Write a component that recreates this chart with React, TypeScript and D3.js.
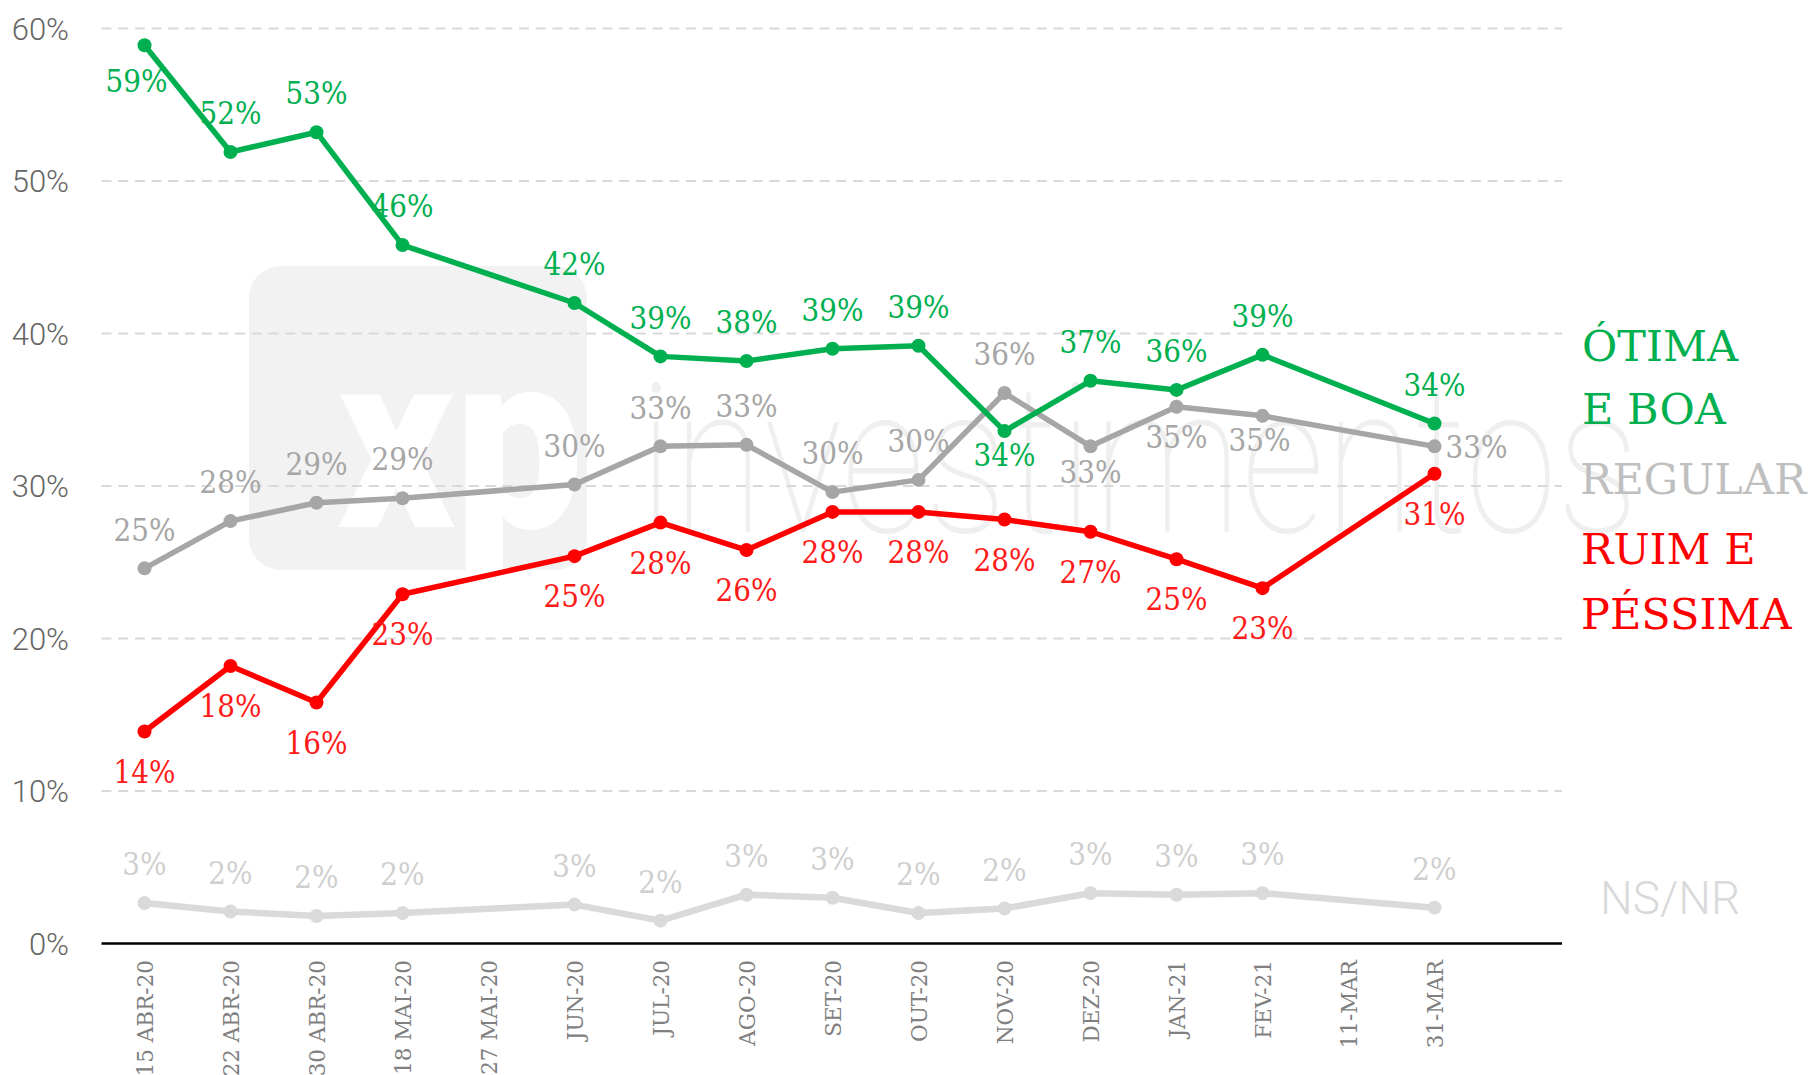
import React from 'react';
import * as d3 from 'd3';

// ---------- data ----------
const categories = [
  '15 ABR-20', '22 ABR-20', '30 ABR-20', '18 MAI-20', '27 MAI-20', 'JUN-20', 'JUL-20', 'AGO-20',
  'SET-20', 'OUT-20', 'NOV-20', 'DEZ-20', 'JAN-21', 'FEV-21', '11-MAR', '31-MAR',
];
const otimaBoa = [58.9, 51.9, 53.2, 45.8, null, 42.0, 38.5, 38.2, 39.0, 39.2, 33.6, 36.9, 36.3, 38.6, null, 34.1];
const regular = [24.6, 27.7, 28.9, 29.2, null, 30.1, 32.6, 32.7, 29.6, 30.4, 36.1, 32.6, 35.2, 34.6, null, 32.6];
const ruimPessima = [13.9, 18.2, 15.8, 22.9, null, 25.4, 27.6, 25.8, 28.3, 28.3, 27.8, 27.0, 25.2, 23.3, null, 30.8];
const nsnr = [2.65, 2.1, 1.8, 2.0, null, 2.55, 1.5, 3.2, 3.0, 2.0, 2.3, 3.3, 3.2, 3.3, null, 2.35];
const yTicks = [0, 10, 20, 30, 40, 50, 60];
const legendOtima = ['ÓTIMA', 'E BOA'];
const legendRegular = ['REGULAR'];
const legendRuim = ['RUIM E', 'PÉSSIMA'];
const legendNs = ['NS/NR'];

// ---------- layout ----------
const W = 1812;
const H = 1075;
const PLOT_LEFT = 101.5;
const PLOT_RIGHT = 1562;
const BAND_RIGHT = 1477.5;

const ABOVE = -39;
const BELOW = 40;

type Off = { dx?: number; dy: number };

const series = [
  {
    key: 'regular', values: regular, color: '#a6a6a6', labelColor: '#a6a6a6', width: 5.5, r: 7,
    def: ABOVE,
    over: { 11: { dy: 25 }, 12: { dy: 30 }, 13: { dx: -3, dy: 24 }, 15: { dx: 42, dy: 0 } } as Record<number, Off>,
  },
  {
    key: 'ruim', values: ruimPessima, color: '#ff0000', labelColor: '#ff1a1a', width: 5.5, r: 7,
    def: BELOW, over: {} as Record<number, Off>,
  },
  {
    key: 'otima', values: otimaBoa, color: '#00b050', labelColor: '#00b050', width: 5.5, r: 7,
    def: ABOVE, over: { 0: { dx: -8, dy: 36 }, 10: { dy: 24 } } as Record<number, Off>,
  },
  {
    key: 'ns', values: nsnr, color: '#dadada', labelColor: '#cfcfcf', width: 6.5, r: 7,
    def: ABOVE, over: {} as Record<number, Off>,
  },
];

const LABEL_FONT = '"DejaVu Serif Condensed", "DejaVu Serif", serif';
const LABEL_SIZE = 31;

export default function App() {
  const x = d3.scaleBand<string>().domain(categories).range([PLOT_LEFT, BAND_RIGHT]).padding(0);
  const cx = (c: string) => (x(c) as number) + x.bandwidth() / 2;
  const y = d3.scaleLinear().domain([0, 60]).range([943.5, 28.5]);

  const line = d3
    .line<{ c: string; v: number }>()
    .x((d) => cx(d.c))
    .y((d) => y(d.v));

  return (
    <svg
      width={W}
      height={H}
      viewBox={`0 0 ${W} ${H}`}
      style={{ position: 'absolute', left: 0, top: 0, background: '#fff' }}
    >
      <rect x={0} y={0} width={W} height={H} fill="#fff" />
      {/* watermark */}
      <g>
        <rect x={249} y={266} width={338} height={304} rx={32} fill="#f2f2f2" />
        <text
          x={337}
          y={527}
          fontFamily="Roboto, sans-serif"
          fontWeight={900}
          fontSize={250}
          fill="#ffffff"
          textLength={246}
          lengthAdjust="spacingAndGlyphs"
        >
          xp
        </text>
        <text
          x={639}
          y={532}
          fontFamily="Roboto, sans-serif"
          fontWeight={100}
          fontSize={208}
          fill="#efefef"
          textLength={1000}
          lengthAdjust="spacingAndGlyphs"
        >
          investimentos
        </text>
      </g>

      {/* gridlines */}
      {yTicks
        .filter((t) => t > 0)
        .map((t) => (
          <line
            key={t}
            x1={PLOT_LEFT}
            x2={PLOT_RIGHT}
            y1={y(t)}
            y2={y(t)}
            stroke="#d9d9d9"
            strokeWidth={2}
            strokeDasharray="10 6.7"
          />
        ))}
      {/* y tick labels */}
      {yTicks.map((t) => (
        <text
          key={'yt' + t}
          x={69}
          y={y(t) + 11}
          textAnchor="end"
          fontFamily="Roboto, sans-serif"
          fontWeight={300}
          fontSize={31}
          fill="#666666"
        >
          {t}%
        </text>
      ))}
      {/* x axis */}
      <line x1={PLOT_LEFT} x2={PLOT_RIGHT} y1={y(0)} y2={y(0)} stroke="#000" strokeWidth={2.5} />
      {categories.map((c) => (
        <text
          key={'xt' + c}
          transform={`translate(${cx(c) + 8},960) rotate(-90)`}
          textAnchor="end"
          fontFamily='"DejaVu Serif", serif'
          fontSize={21.5}
          fill="#808080"
        >
          {c}
        </text>
      ))}

      {/* series */}
      {series.map((s) => {
        const pts = categories
          .map((c, i) => ({ c, v: s.values[i] as number | null, i }))
          .filter((d) => d.v !== null) as { c: string; v: number; i: number }[];
        return (
          <g key={s.key}>
            <path
              d={line(pts) || ''}
              fill="none"
              stroke={s.color}
              strokeWidth={s.width}
              strokeLinejoin="round"
              strokeLinecap="round"
            />
            {pts.map((d) => (
              <circle key={d.c} cx={cx(d.c)} cy={y(d.v)} r={s.r} fill={s.color} />
            ))}
          </g>
        );
      })}
      {series.map((s) => {
        const pts = categories
          .map((c, i) => ({ c, v: s.values[i] as number | null, i }))
          .filter((d) => d.v !== null) as { c: string; v: number; i: number }[];
        return (
          <g key={s.key + 'lbl'}>
            {pts.map((d) => {
              const o = s.over[d.i] || { dy: s.def };
              return (
                <text
                  key={d.c}
                  x={cx(d.c) + (o.dx || 0)}
                  y={y(d.v) + o.dy + LABEL_SIZE * 0.36}
                  textAnchor="middle"
                  fontFamily={LABEL_FONT}
                  fontSize={LABEL_SIZE}
                  fill={s.labelColor}
                >
                  {Math.round(d.v)}%
                </text>
              );
            })}
          </g>
        );
      })}

      {/* legend */}
      <g fontFamily='"DejaVu Serif", serif' fontSize={43}>
        {legendOtima.map((t, i) => (
          <text key={t} x={1582} y={361 + i * 63} fill="#00b050">
            {t}
          </text>
        ))}
        {legendRegular.map((t) => (
          <text key={t} x={1580} y={494} fill="#bfbfbf">
            {t}
          </text>
        ))}
        {legendRuim.map((t, i) => (
          <text key={t} x={1581} y={564 + i * 65} fill="#ff0000">
            {t}
          </text>
        ))}
      </g>
      {legendNs.map((t) => (
        <text key={t} x={1600} y={914} fontFamily="Roboto, sans-serif" fontWeight={300} fontSize={46} fill="#d9d9d9">
          {t}
        </text>
      ))}
    </svg>
  );
}
